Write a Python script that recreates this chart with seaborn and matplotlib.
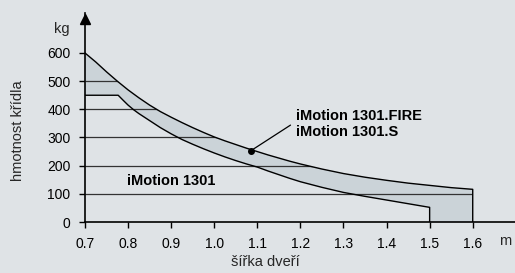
import numpy as np
import pandas as pd
import matplotlib
matplotlib.use("Agg")
import matplotlib.pyplot as plt
import seaborn as sns
from matplotlib.patches import Polygon

# ---- data ----
width_fire = [0.70, 0.725, 0.75, 0.775, 0.80, 0.825, 0.85, 0.875, 0.90, 0.925,
              0.95, 0.975, 1.00, 1.025, 1.05, 1.075, 1.10, 1.125, 1.15, 1.175,
              1.20, 1.25, 1.30, 1.35, 1.40, 1.45, 1.50, 1.55, 1.60, 1.60]
weight_fire = [600, 568, 533, 500, 469, 441, 415, 392, 372, 353,
               335, 318, 302, 288, 275, 262, 250, 238, 227, 216,
               206, 188, 172, 159, 148, 138, 130, 122, 116, 0]
width_basic = [0.70, 0.777, 0.79, 0.80, 0.8125, 0.825, 0.85, 0.875, 0.90, 0.925,
               0.95, 0.975, 1.00, 1.025, 1.05, 1.075, 1.10, 1.125, 1.15, 1.175,
               1.20, 1.25, 1.30, 1.35, 1.40, 1.45, 1.50, 1.50]
weight_basic = [450, 450, 430, 415, 399, 385, 360, 335, 313, 293,
                276, 260, 245, 231, 218, 206, 195, 181, 168, 155,
                143, 123, 105, 91, 78, 65, 52, 0]
x_ticks = [0.7, 0.8, 0.9, 1.0, 1.1, 1.2, 1.3, 1.4, 1.5, 1.6]
x_tick_labels = ["0.7", "0.8", "0.9", "1.0", "1.1", "1.2", "1.3", "1.4", "1.5", "1.6"]
y_ticks = [0, 100, 200, 300, 400, 500, 600]
grid_levels = [100, 200, 300, 400, 500]
label_fire = "iMotion 1301.FIRE\niMotion 1301.S"
label_basic = "iMotion 1301"
marker_point = (1.085, 253)

BG = "#dfe3e6"
FILL = "#cbd3d8"

sns.set_theme(style="white")
plt.rcParams["font.family"] = ["Liberation Sans", "DejaVu Sans"]

fig = plt.figure(figsize=(5.15, 2.73), dpi=100, facecolor=BG)
ax = fig.add_axes([85 / 515, 51 / 273, 430 / 515, 209 / 273])
ax.set_facecolor(BG)
ax.set_xlim(0.7, 0.7 + 430 / 430.8)
ax.set_ylim(0, 742)

# shaded band
band = list(zip(width_fire, weight_fire)) + list(zip(width_basic, weight_basic))[::-1]
ax.add_patch(Polygon(band, closed=True, facecolor=FILL, edgecolor="none", zorder=1))

# grid lines only below the upper curve
under = Polygon(list(zip(width_fire, weight_fire)) + [(0.7, 0)], closed=True,
                transform=ax.transData)
hl = ax.hlines(grid_levels, 0.7, 1.6, colors="#333333", linewidth=0.9, zorder=2)
hl.set_clip_path(under)

df_fire = pd.DataFrame({"x": width_fire, "y": weight_fire})
df_basic = pd.DataFrame({"x": width_basic, "y": weight_basic})
sns.lineplot(data=df_fire, x="x", y="y", sort=False, estimator=None,
             color="black", linewidth=1.0, ax=ax, zorder=3)
sns.lineplot(data=df_basic, x="x", y="y", sort=False, estimator=None,
             color="black", linewidth=1.0, ax=ax, zorder=3)

# spines / ticks
for s in ["top", "right"]:
    ax.spines[s].set_visible(False)
for s in ["left", "bottom"]:
    ax.spines[s].set_color("black")
    ax.spines[s].set_linewidth(1.2)
    ax.spines[s].set_zorder(4)
ax.set_xticks(x_ticks)
ax.set_xticklabels(x_tick_labels)
ax.set_yticks(y_ticks)
ax.tick_params(axis="x", direction="out", length=4, width=1, pad=7,
               labelsize=10, colors="black", bottom=True)
ax.tick_params(axis="y", direction="out", length=4.5, width=1, pad=6,
               labelsize=10, colors="black", left=True)
ax.set_xlabel("")
ax.set_ylabel("")

# arrow on y axis
ax.plot([0.7], [720], marker="^", markersize=7.5, color="black",
        clip_on=False, zorder=5)

# annotations
ax.plot([marker_point[0]], [marker_point[1]], marker="o", markersize=4,
        color="black", zorder=5)
ax.plot([marker_point[0], 1.177], [marker_point[1], 344], color="black",
        linewidth=0.9, zorder=5)
ax.text(1.189, 348, label_fire, fontsize=10.5, fontweight="bold",
        ha="left", va="center", linespacing=1.25, color="black")
ax.text(0.901, 145, label_basic, fontsize=10.5, fontweight="bold",
        ha="center", va="center", color="black")

# unit labels and axis titles
fig.text(70 / 515, 1 - 29 / 273, "kg", fontsize=10.5, ha="right", va="center")
fig.text(505 / 515, 1 - 241 / 273, "m", fontsize=10.5, ha="center", va="center")
fig.text(265 / 515, 1 - 262 / 273, "šířka dveří", fontsize=10.5,
         ha="center", va="center")
fig.text(18 / 515, 1 - 131 / 273, "hmotnost křídla", fontsize=10.5,
         ha="center", va="center", rotation=90)

fig.savefig("out.png", dpi=100, facecolor=BG)
